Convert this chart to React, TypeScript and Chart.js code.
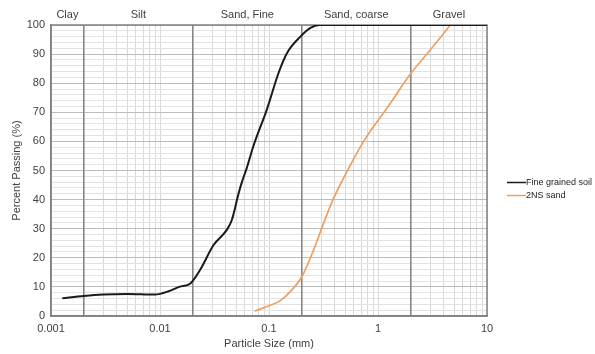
import React, { useEffect, useRef } from "react";
import { Chart, registerables } from "chart.js";

Chart.register(...registerables);

// Data
const fineSize = [0.00127, 0.002, 0.003, 0.005, 0.009, 0.012, 0.015, 0.019, 0.0233, 0.031, 0.041, 0.0456, 0.0525, 0.0564, 0.0627, 0.0721, 0.0957, 0.1223, 0.146, 0.194, 0.24, 0.29, 10];
const finePass = [6.1, 6.9, 7.4, 7.6, 7.4, 8.5, 10, 11.2, 15.8, 24.4, 29.6, 33, 42, 46, 51, 58.5, 71, 83.5, 90.3, 96, 99, 100, 100];

const sandSize = [0.0737, 0.1, 0.127, 0.16, 0.2, 0.257, 0.317, 0.391, 0.519, 0.738, 1.05, 1.3, 1.95, 3, 4.61];
const sandPass = [1.7, 3.5, 5.3, 8.7, 13.5, 22.7, 31.9, 40.4, 49.6, 60, 68.3, 73.1, 82.8, 91.3, 100];

const seriesNames = ["Fine grained soil", "2NS sand"];
const seriesColors = ["#1a1a1a", "#eda062"];

const xDecades = [0.001, 0.01, 0.1, 1];
const xLabelValues = [0.001, 0.01, 0.1, 1, 10];
const xLabels = ["0.001", "0.01", "0.1", "1", "10"];
const boundaries = [0.002, 0.02, 0.2, 2];

const zoneNames = ["Clay", "Silt", "Sand, Fine", "Sand, coarse", "Gravel"];
const zoneLo = [0.001, 0.002, 0.02, 0.2, 2];
const zoneHi = [0.002, 0.02, 0.2, 2, 10];

const FONT = "'Liberation Sans', Arial, sans-serif";
const TEXT = "#404040";
const DARK = "#808080";

const near = (a: number, b: number) => Math.abs(a - b) <= Math.abs(b) * 1e-6;

const xTickValues: number[] = [];
xDecades.forEach((d) => {
  for (let m = 1; m <= 9; m++) xTickValues.push(d * m);
});
xTickValues.push(10);

const overlayPlugin = {
  id: "overlay",
  beforeDatasetsDraw(chart: any) {
    const ctx = chart.ctx;
    const xs = chart.scales.x;
    const a = chart.chartArea;
    ctx.save();
    ctx.strokeStyle = DARK;
    ctx.lineWidth = 1.5;
    ctx.beginPath();
    boundaries.forEach((b) => {
      const px = xs.getPixelForValue(b);
      ctx.moveTo(px, a.top);
      ctx.lineTo(px, a.bottom);
    });
    ctx.stroke();
    ctx.strokeRect(a.left, a.top, a.right - a.left, a.bottom - a.top);
    ctx.restore();
  },
  afterDraw(chart: any) {
    const ctx = chart.ctx;
    const xs = chart.scales.x;
    const area = chart.chartArea;
    ctx.save();
    ctx.fillStyle = TEXT;
    ctx.font = `11px ${FONT}`;
    ctx.textAlign = "center";
    ctx.textBaseline = "middle";
    zoneNames.forEach((n, i) => {
      const c = Math.sqrt(zoneLo[i] * zoneHi[i]);
      ctx.fillText(n, xs.getPixelForValue(c), 15);
    });
    // legend
    ctx.font = `9px ${FONT}`;
    ctx.textAlign = "left";
    seriesNames.forEach((n, i) => {
      const y = 182.5 + i * 13;
      const x0 = area.right + 20;
      ctx.strokeStyle = seriesColors[i];
      ctx.lineWidth = 1.5;
      ctx.beginPath();
      ctx.moveTo(x0, y);
      ctx.lineTo(x0 + 19, y);
      ctx.stroke();
      ctx.fillStyle = "#222";
      ctx.fillText(n, x0 + 19, y);
    });
    ctx.restore();
  },
};

export default function App() {
  const ref = useRef<HTMLCanvasElement>(null);
  useEffect(() => {
    if (!ref.current) return;
    const chart = new Chart(ref.current, {
      type: "line",
      data: {
        datasets: [
          {
            label: seriesNames[0],
            data: fineSize.map((x, i) => ({ x, y: finePass[i] })),
            borderColor: seriesColors[0],
            borderWidth: 2,
            pointRadius: 0,
            cubicInterpolationMode: "monotone",
          },
          {
            label: seriesNames[1],
            data: sandSize.map((x, i) => ({ x, y: sandPass[i] })),
            borderColor: seriesColors[1],
            borderWidth: 1.7,
            pointRadius: 0,
            cubicInterpolationMode: "monotone",
          },
        ],
      },
      options: {
        responsive: false,
        animation: false,
        parsing: false as any,
        layout: { padding: { left: 0, top: 25, right: 108, bottom: 0 } },
        plugins: { legend: { display: false }, tooltip: { enabled: false } },
        scales: {
          x: {
            type: "logarithmic",
            min: 0.001,
            max: 10,
            afterBuildTicks: (s: any) => {
              s.ticks = xTickValues.map((v) => ({ value: v }));
            },
            afterFit: (s: any) => {
              s.height = 38;
            },
            ticks: {
              autoSkip: false,
              maxRotation: 0,
              padding: 6,
              color: TEXT,
              font: { family: FONT, size: 11 },
              callback: (v: any) => {
                const i = xLabelValues.findIndex((l) => near(Number(v), l));
                return i >= 0 ? xLabels[i] : "";
              },
            },
            grid: {
              drawTicks: false,
              color: "#d9d9d9",
            },
            border: { color: DARK, width: 1.5 },
            title: {
              display: true,
              text: "Particle Size (mm)",
              color: TEXT,
              font: { family: FONT, size: 11 },
              padding: { top: 0, bottom: 3 },
            },
          },
          y: {
            min: 0,
            max: 100,
            afterFit: (s: any) => {
              s.width = 51;
            },
            ticks: {
              stepSize: 2,
              autoSkip: false,
              padding: 6,
              color: TEXT,
              font: { family: FONT, size: 11 },
              callback: (v: any) => (Number(v) % 10 === 0 ? String(v) : ""),
            },
            grid: {
              drawTicks: false,
              color: (c: any) => {
                const v = c.tick?.value;
                if (v % 10 === 0) return "#bdbdbd";
                return "#e3e3e3";
              },
            },
            border: { color: DARK, width: 1.5 },
            title: {
              display: true,
              text: "Percent Passing (%)",
              color: TEXT,
              font: { family: FONT, size: 11 },
              padding: { top: 10, bottom: 0 },
            },
          },
        },
      },
      plugins: [overlayPlugin],
    });
    return () => chart.destroy();
  }, []);
  return (
    <div style={{ position: "fixed", left: 0, top: 0, width: 595, height: 354, background: "#fff" }}>
      <canvas ref={ref} width={595} height={354} />
    </div>
  );
}
